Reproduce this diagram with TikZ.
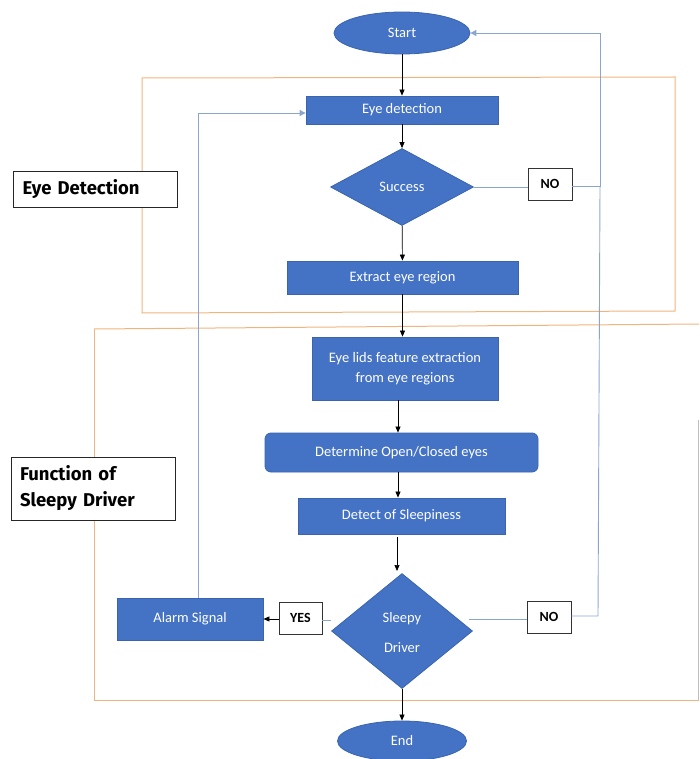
\documentclass[tikz,border=0pt]{standalone}
\usepackage{fontspec}
\setmainfont{Carlito}
\newfontfamily\labfont{Fira Sans}
\usetikzlibrary{shapes.geometric,arrows.meta}
\definecolor{boxblue}{HTML}{4472C4}
\definecolor{boxedge}{HTML}{3A64AE}
\definecolor{linkblue}{HTML}{8AA6CF}
\definecolor{frameorange}{HTML}{F0B47E}
\tikzset{
  x=1pt,y=-1pt,
  bluebox/.style={draw=boxedge,fill=boxblue,text=white,line width=0.8pt,inner sep=2pt,font=\fontsize{14.5}{20}\selectfont,align=center},
  blueell/.style={bluebox,ellipse},
  bluedia/.style={bluebox,diamond,inner sep=0pt},
  tagbox/.style={draw=black!80,fill=white,line width=0.9pt,font=\bfseries\fontsize{14}{16}\selectfont},
  labbox/.style={draw=black!85,fill=white,line width=0.9pt,font=\labfont\bfseries\fontsize{18.5}{26}\selectfont,align=left,inner xsep=9pt,text width=146pt},
  flow/.style={draw=black,line width=0.7pt,-{Triangle[length=6pt,width=5pt]}},
  link/.style={draw=linkblue,line width=0.9pt},
  linkarr/.style={link,-{Triangle[length=6pt,width=6pt]}},
  frame/.style={draw=frameorange,line width=1pt}
}
\begin{document}
\begin{tikzpicture}
\useasboundingbox (0,0) rectangle (699,759);
% frames
\draw[frame] (142,78) -- (675,77) -- (675,311) -- (142,313) -- cycle;
\draw[frame] (94,329) -- (699,324);
\draw[frame] (94,329) -- (94,700) -- (699,700);
\draw[draw=black!25,line width=0.8pt] (698,420) -- (698,700);
% labels
\node[labbox,minimum height=36pt] (lab1) at (95.5,189) {Eye Detection};
\node[labbox,minimum height=63pt] (lab2) at (93,488.5) {Function of\\Sleepy Driver};
% flow nodes
\node[blueell,minimum width=136pt,minimum height=42pt] (start) at (402,33) {Start};
\node[bluebox,minimum width=192pt,minimum height=28pt] (eyedet) at (402,110) {Eye detection};
\node[bluedia,minimum width=143pt,minimum height=77pt] (success) at (402,187) {Success};
\node[bluebox,minimum width=231pt,minimum height=33pt] (extract) at (402.5,277.5) {Extract eye region};
\node[bluebox,minimum width=186pt,minimum height=63pt] (eyelids) at (405,368.5) {Eye lids feature extraction\\from eye regions};
\node[bluebox,rounded corners=6pt,minimum width=273pt,minimum height=39pt] (determine) at (401.5,452.5) {Determine Open/Closed eyes};
\node[bluebox,minimum width=207pt,minimum height=36pt] (detect) at (401.5,516) {Detect of Sleepiness};
\node[bluedia,minimum width=141pt,minimum height=115pt] (sleepy) at (402,631) {};
\node[text=white,font=\fontsize{14.5}{30}\selectfont,align=center] (sleepytxt) at (402,632.5) {Sleepy\\Driver};
\node[bluebox,minimum width=146pt,minimum height=42pt] (alarm) at (190,619) {Alarm Signal};
\node[blueell,minimum width=129pt,minimum height=40pt] (end) at (402,741) {End};
% tag boxes
\node[tagbox,minimum width=44pt,minimum height=32pt] (no1) at (550,184) {NO};
\node[tagbox,minimum width=44pt,minimum height=32pt] (no2) at (549,617) {NO};
\node[tagbox,minimum width=43pt,minimum height=32pt] (yes) at (300.5,618) {YES};
% helper coordinates
\coordinate (rtop) at (600,33);
\coordinate (rmid) at (600,186);
\coordinate (rlow) at (598,616);
\coordinate (ltop) at (198,113);
\coordinate (sno) at (469,619);
\coordinate (syes) at (331,620);
% main flow
\draw[flow] (start) -- (eyedet);
\draw[flow] (eyedet) -- (success);
\draw[flow] (success) -- (extract);
\draw[flow] (extract.south) -- (extract.south |- eyelids.north);
\draw[flow] ([xshift=-7pt]eyelids.south) -- ([xshift=-7pt]eyelids.south |- determine.north);
\draw[flow] ([xshift=-3.5pt]determine.south) -- ([xshift=-3.5pt]determine.south |- detect.north);
\draw[flow] ([xshift=-4.5pt,yshift=-3pt]detect.south) -- ([xshift=-4.5pt]detect.south |- 0,571);
\draw[flow] (sleepy) -- (end);
% NO loops
\draw[link] (success.east) -- (no1.west |- success.east);
\draw[linkarr] (no1.east |- rmid) -- (rmid) -- (rtop) -- (start.east);
\draw[link] (sno) -- (no2.west |- sno);
\draw[link] (no2.east |- rlow) -- (rlow) -- (rmid);
% YES
\draw[link] (syes) -- (yes.east |- syes);
\draw[flow] (yes.west |- alarm) -- (alarm.east);
\draw[linkarr] (alarm.north -| ltop) -- (ltop) -- (eyedet.west |- ltop);
\end{tikzpicture}
\end{document}
